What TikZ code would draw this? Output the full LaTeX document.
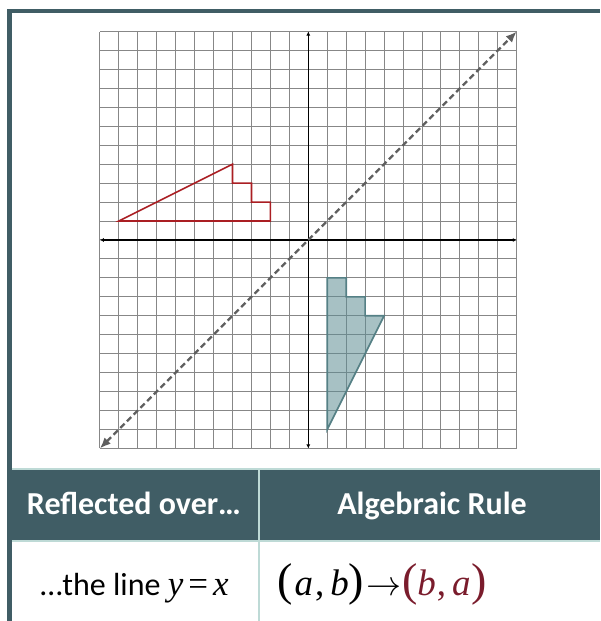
\RequirePackage{fix-cm}
\documentclass[tikz,border=0pt]{standalone}
\usepackage{fontspec}
\setmainfont{Carlito}
\newfontfamily\tms{Liberation Serif}
\usetikzlibrary{arrows.meta}
\definecolor{darkteal}{RGB}{64,93,101}
\definecolor{lightteal}{RGB}{190,218,214}
\definecolor{gridgray}{RGB}{135,135,135}
\definecolor{shapered}{RGB}{170,30,35}
\definecolor{shapeteal}{RGB}{94,142,148}
\definecolor{maroon}{RGB}{122,28,44}
\definecolor{dashgray}{RGB}{95,95,95}
\tikzset{
  gridline/.style={draw=gridgray, line width=1pt},
  axisline/.style={draw=black, line width=1.4pt, {Latex[length=4pt,width=4pt]}-{Latex[length=4pt,width=4pt]}},
  mirror/.style={draw=dashgray, line width=2.3pt, dash pattern=on 6pt off 3.5pt, {Latex[length=11pt,width=9pt]}-{Latex[length=11pt,width=9pt]}},
  preimage/.style={draw=shapered, line width=1.6pt, line join=miter},
  image/.style={draw=shapeteal!90!black, fill=shapeteal, fill opacity=0.55, line width=1.6pt},
  headtext/.style={text=white, font=\fontsize{32}{32}\selectfont\bfseries, anchor=base, inner sep=0pt},
  celltext/.style={text=black, font=\fontsize{32}{32}\selectfont, anchor=base, inner sep=0pt},
}
\newcommand{\bigp}[1]{{\fontsize{46}{46}\selectfont #1}}
\newcommand{\letr}[1]{{\fontsize{37}{37}\selectfont\itshape #1}}
\newcommand{\cmm}{{\fontsize{37}{37}\selectfont ,}}
\newcommand{\rarr}{{\fontsize{35}{35}\selectfont$\rightarrow$}}
\begin{document}
\begin{tikzpicture}[x=1pt,y=1pt]
\useasboundingbox (0,0) rectangle (600,621);
% frame
\fill[darkteal] (7,608) rectangle (600,612);
\fill[darkteal] (7,0) rectangle (12,612);
% grid
\begin{scope}[shift={(308.3,381)}, x=18.95pt, y=18.95pt]
  \foreach \i in {-11,...,11} {
    \draw[gridline] (\i,-11) -- (\i,11);
    \draw[gridline] (-11,\i) -- (11,\i);
  }
  \coordinate (xl) at (-11,0);
  \coordinate (xr) at (11,0);
  \coordinate (yb) at (0,-11);
  \coordinate (yt) at (0,11);
  \coordinate (dl) at (-11,-11);
  \coordinate (du) at (11,11);
  \draw[axisline] (xl) -- (xr);
  \draw[axisline] (yb) -- (yt);
  \draw[image] (1,-10) -- (4,-4) -- (3,-4) -- (3,-3) -- (2,-3) -- (2,-2) -- (1,-2) -- cycle;
  \draw[preimage] (-10,1) -- (-4,4) -- (-4,3) -- (-3,3) -- (-3,2) -- (-2,2) -- (-2,1) -- cycle;
  \draw[mirror] (dl) -- (du);
\end{scope}
% table
\fill[darkteal] (12,81) rectangle (600,152);
\draw[lightteal, line width=2pt] (12,152) -- (600,152);
\draw[lightteal, line width=2pt] (12,80) -- (600,80);
\draw[lightteal, line width=2pt] (259,0) -- (259,153);
\node[headtext] (h1) at (134,106) {Reflected over…};
\node[headtext] (h2) at (432,106) {Algebraic Rule};
\node[celltext] (c1) at (134.5,25) {…the line {\fontsize{35}{35}\selectfont\tms\itshape y}\kern5pt{\fontsize{35}{35}\selectfont\tms=}\kern5pt{\fontsize{35}{35}\selectfont\tms\itshape x}};
\node[celltext, anchor=base west] (c2) at (277,25.5) {\tms\bigp{(}\kern2pt\letr{a}\kern2pt\cmm\kern6pt\letr{b}\bigp{)}\kern2pt\rarr\kern1pt\color{maroon}\bigp{(}\letr{b}\kern1pt\cmm\kern6pt\letr{a}\kern1pt\bigp{)}};
\end{tikzpicture}
\end{document}
